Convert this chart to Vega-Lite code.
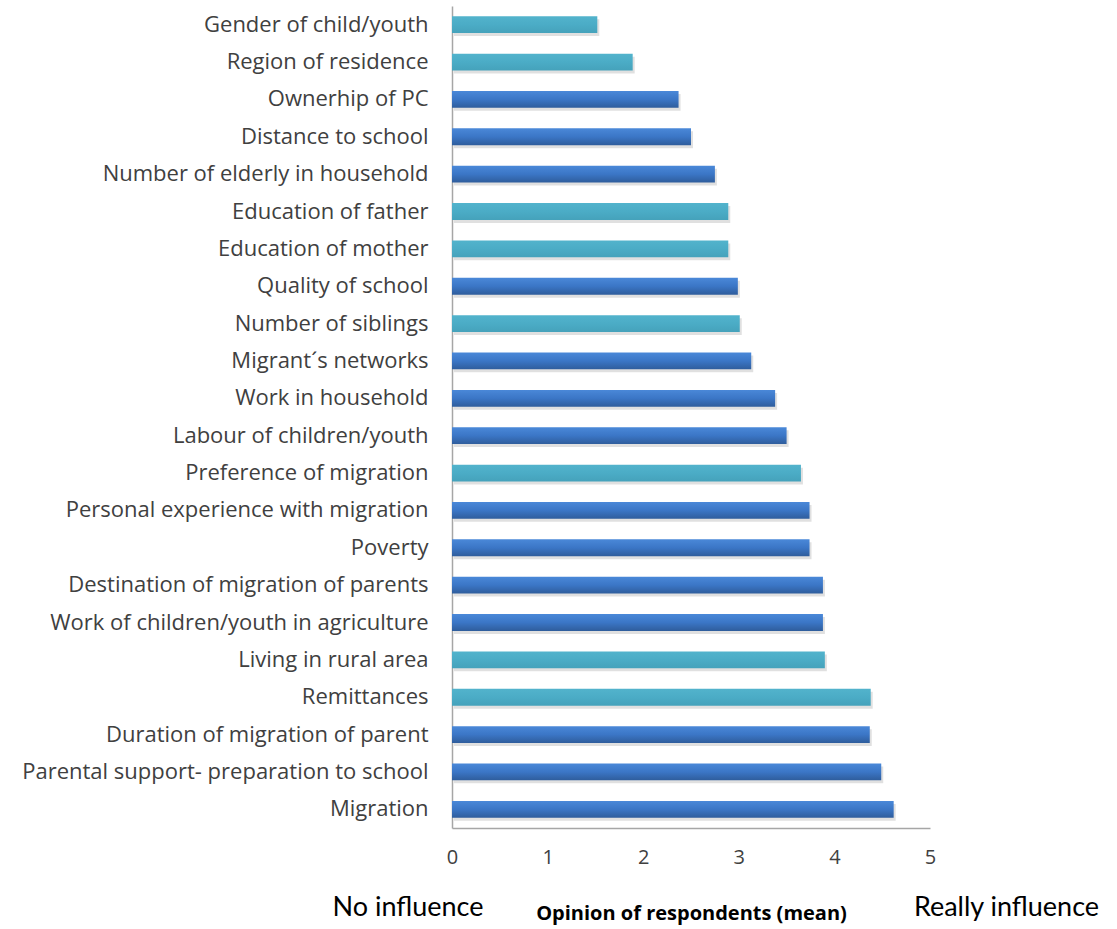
{
  "$schema": "https://vega.github.io/schema/vega-lite/v6.json",
  "width": 478,
  "height": 822,
  "autosize": "none",
  "padding": {"left": 452, "top": 6, "right": 187, "bottom": 101},
  "background": "white",
  "config": {
    "view": {"stroke": null},
    "font": "Open Sans"
  },
  "data": {
    "values": [
      {"factor": "Gender of child/youth", "mean": 1.52, "group": "b"},
      {"factor": "Region of residence", "mean": 1.89, "group": "b"},
      {"factor": "Ownerhip of PC", "mean": 2.37, "group": "a"},
      {"factor": "Distance to school", "mean": 2.5, "group": "a"},
      {"factor": "Number of elderly in household", "mean": 2.75, "group": "a"},
      {"factor": "Education of father", "mean": 2.89, "group": "b"},
      {"factor": "Education of mother", "mean": 2.89, "group": "b"},
      {"factor": "Quality of school", "mean": 2.99, "group": "a"},
      {"factor": "Number of siblings ", "mean": 3.01, "group": "b"},
      {"factor": "Migrant´s networks", "mean": 3.13, "group": "a"},
      {"factor": "Work in household", "mean": 3.38, "group": "a"},
      {"factor": "Labour of children/youth", "mean": 3.5, "group": "a"},
      {"factor": "Preference of migration", "mean": 3.65, "group": "b"},
      {"factor": "Personal experience with migration", "mean": 3.74, "group": "a"},
      {"factor": "Poverty", "mean": 3.74, "group": "a"},
      {"factor": "Destination  of migration of parents", "mean": 3.88, "group": "a"},
      {"factor": "Work of children/youth in agriculture", "mean": 3.88, "group": "a"},
      {"factor": "Living in rural area", "mean": 3.9, "group": "b"},
      {"factor": "Remittances", "mean": 4.38, "group": "b"},
      {"factor": "Duration of migration of parent", "mean": 4.37, "group": "a"},
      {"factor": "Parental support- preparation to school", "mean": 4.49, "group": "a"},
      {"factor": "Migration", "mean": 4.62, "group": "a"}
    ]
  },
  "encoding": {
    "y": {
      "field": "factor",
      "type": "nominal",
      "sort": null,
      "scale": {"paddingInner": 0.55, "paddingOuter": 0.275},
      "axis": {
        "title": null,
        "domainColor": "#a6a6a6",
        "domainWidth": 1.5,
        "ticks": false,
        "labelFont": "Open Sans",
        "labelFontSize": 22,
        "labelColor": "#404040",
        "labelPadding": 24,
        "labelLimit": 600
      }
    },
    "x": {
      "field": "mean",
      "type": "quantitative",
      "scale": {"domain": [0, 5]},
      "axis": {
        "values": [0, 1, 2, 3, 4, 5],
        "format": "d",
        "grid": false,
        "ticks": false,
        "domainColor": "#a6a6a6",
        "domainWidth": 1.5,
        "labelFont": "Open Sans",
        "labelFontSize": 20,
        "labelColor": "#404040",
        "labelPadding": 19,
        "labelFlush": false,
        "title": "Opinion of respondents (mean)",
        "titleFont": "Open Sans",
        "titleFontSize": 20,
        "titleFontWeight": "bold",
        "titleColor": "#000000",
        "titlePadding": 36
      }
    }
  },
  "layer": [
    {
      "mark": {"type": "bar", "color": "#000000", "opacity": 0.12, "yOffset": 3, "xOffset": 2},
      "encoding": {}
    },
    {
      "transform": [{"filter": "datum.group === 'a'"}],
      "mark": {
        "type": "bar",
        "color": {
          "gradient": "linear",
          "x1": 0, "y1": 0, "x2": 0, "y2": 1,
          "stops": [
            {"offset": 0, "color": "#4a88d8"},
            {"offset": 0.5, "color": "#3b76c6"},
            {"offset": 1, "color": "#2f5d9c"}
          ]
        }
      },
      "encoding": {}
    },
    {
      "transform": [{"filter": "datum.group === 'b'"}],
      "mark": {
        "type": "bar",
        "color": {
          "gradient": "linear",
          "x1": 0, "y1": 0, "x2": 0, "y2": 1,
          "stops": [
            {"offset": 0, "color": "#52b3cc"},
            {"offset": 0.5, "color": "#4bacc6"},
            {"offset": 1, "color": "#45a2bb"}
          ]
        }
      },
      "encoding": {}
    },
    {
      "data": {
        "values": [
          {"note": "No influence", "pos": -0.46},
          {"note": "Really influence", "pos": 5.8}
        ]
      },
      "mark": {"type": "text", "font": "Lato", "fontSize": 27, "color": "#000000", "dy": 80, "baseline": "middle", "align": "center"},
      "encoding": {
        "x": {"field": "pos", "type": "quantitative"},
        "y": {"value": "height"},
        "text": {"field": "note"}
      }
    }
  ]
}
